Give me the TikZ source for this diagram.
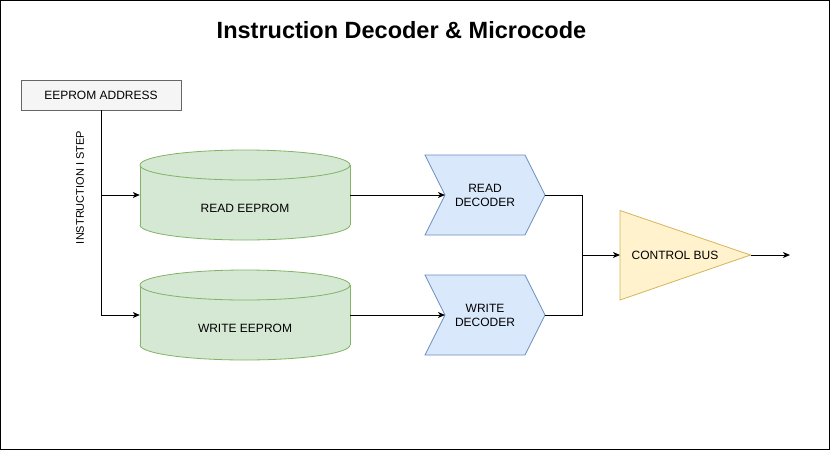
\documentclass[tikz,border=0pt]{standalone}
\usepackage{fontspec}
\setmainfont{Liberation Sans}
\usetikzlibrary{arrows.meta}
\definecolor{gfill}{HTML}{D5E8D4}
\definecolor{gline}{HTML}{82B366}
\definecolor{bfill}{HTML}{DAE8FC}
\definecolor{bline}{HTML}{6C8EBF}
\definecolor{yfill}{HTML}{FFF2CC}
\definecolor{yline}{HTML}{D6B656}
\definecolor{afill}{HTML}{F5F5F5}
\definecolor{aline}{HTML}{666666}
\tikzset{
  lbl/.style={font=\fontsize{12}{14}\selectfont, align=center, inner sep=0pt},
  hold/.style={draw=none, inner sep=0pt, minimum width=#1},
  arr/.style={line width=1pt, -{Stealth[length=7pt,width=6pt,inset=2pt]}},
  conn/.style={line width=1pt},
  cylstyle/.style={fill=gfill, draw=gline, line width=0.8pt},
  chevstyle/.style={fill=bfill, draw=bline, line width=0.8pt},
}
\newcommand{\mycyl}[3]{% left x, top y, name
  \fill[gfill] (#1,#2+15) rectangle (#1+210,#2+75);
  \fill[gfill] (#1+105,#2+75) ellipse [x radius=105, y radius=15];
  \draw[gline, line width=0.8pt] (#1,#2+15) -- (#1,#2+75);
  \draw[gline, line width=0.8pt] (#1+210,#2+15) -- (#1+210,#2+75);
  \begin{scope}
    \clip (#1-5,#2+75) rectangle (#1+215,#2+95);
    \draw[gline, line width=0.8pt] (#1+105,#2+75) ellipse [x radius=105, y radius=15];
  \end{scope}
  \draw[cylstyle] (#1+105,#2+15) ellipse [x radius=105, y radius=15];
}
\newcommand{\mychev}[2]{% left x, top y
  \draw[chevstyle, line join=miter] (#1,#2) -- (#1+100,#2) -- (#1+120,#2+40) -- (#1+100,#2+80) -- (#1,#2+80) -- (#1+20,#2+40) -- cycle;
}
\begin{document}
\begin{tikzpicture}[x=1pt,y=-1pt]
\useasboundingbox (0,0) rectangle (831,451);
\draw[line width=1.3pt] (0.7,0.7) rectangle (829.6,449.8);

\node[font=\fontsize{23.5}{28}\selectfont\bfseries, inner sep=0pt] (title) at (401.5,30) {Instruction Decoder \& Microcode};

\node[draw=aline, fill=afill, line width=0.8pt, minimum width=160pt, minimum height=30pt, inner sep=0pt, lbl] (addr) at (101,95) {EEPROM ADDRESS};

% cylinders
\mycyl{140}{150}{r}
\mycyl{140}{270}{w}
\node[hold=210pt, minimum height=90pt] (rcyl) at (245,195) {};
\node[hold=210pt, minimum height=90pt] (wcyl) at (245,315) {};
\node[lbl] (rcyltxt) at (245,208) {READ EEPROM};
\node[lbl] (wcyltxt) at (245,328) {WRITE EEPROM};

% decoders
\mychev{425}{155}
\mychev{425}{275}
\coordinate (rdin) at (445,195);
\coordinate (rdout) at (545,195);
\coordinate (wdin) at (445,315);
\coordinate (wdout) at (545,315);
\node[lbl] (rdtxt) at (485,195) {READ\\DECODER};
\node[lbl] (wdtxt) at (485,315) {WRITE\\DECODER};

% control bus
\draw[fill=yfill, draw=yline, line width=0.8pt, line join=miter] (620,210.5) -- (750.5,255) -- (620,300) -- cycle;
\coordinate (ctlin) at (620,255);
\coordinate (ctlout) at (750.5,255);
\node[lbl] (ctltxt) at (675,255) {CONTROL BUS};
\coordinate (busout) at (790,255);
\coordinate (merge) at (582.5,255);

% label
\node[font=\fontsize{11}{13}\selectfont, rotate=90, inner sep=0pt] (steplbl) at (80,187.5) {INSTRUCTION I STEP};

% connectors
\draw[arr] (addr.south) |- (rcyl.west);
\draw[arr] (addr.south) |- (wcyl.west);
\draw[arr] (rcyl.east) -- (rdin);
\draw[arr] (wcyl.east) -- (wdin);
\draw[conn] (rdout) -| (merge);
\draw[conn] (wdout) -| (merge);
\draw[arr] (merge) -- (ctlin);
\draw[arr] (ctlout) -- (busout);
\end{tikzpicture}
\end{document}
